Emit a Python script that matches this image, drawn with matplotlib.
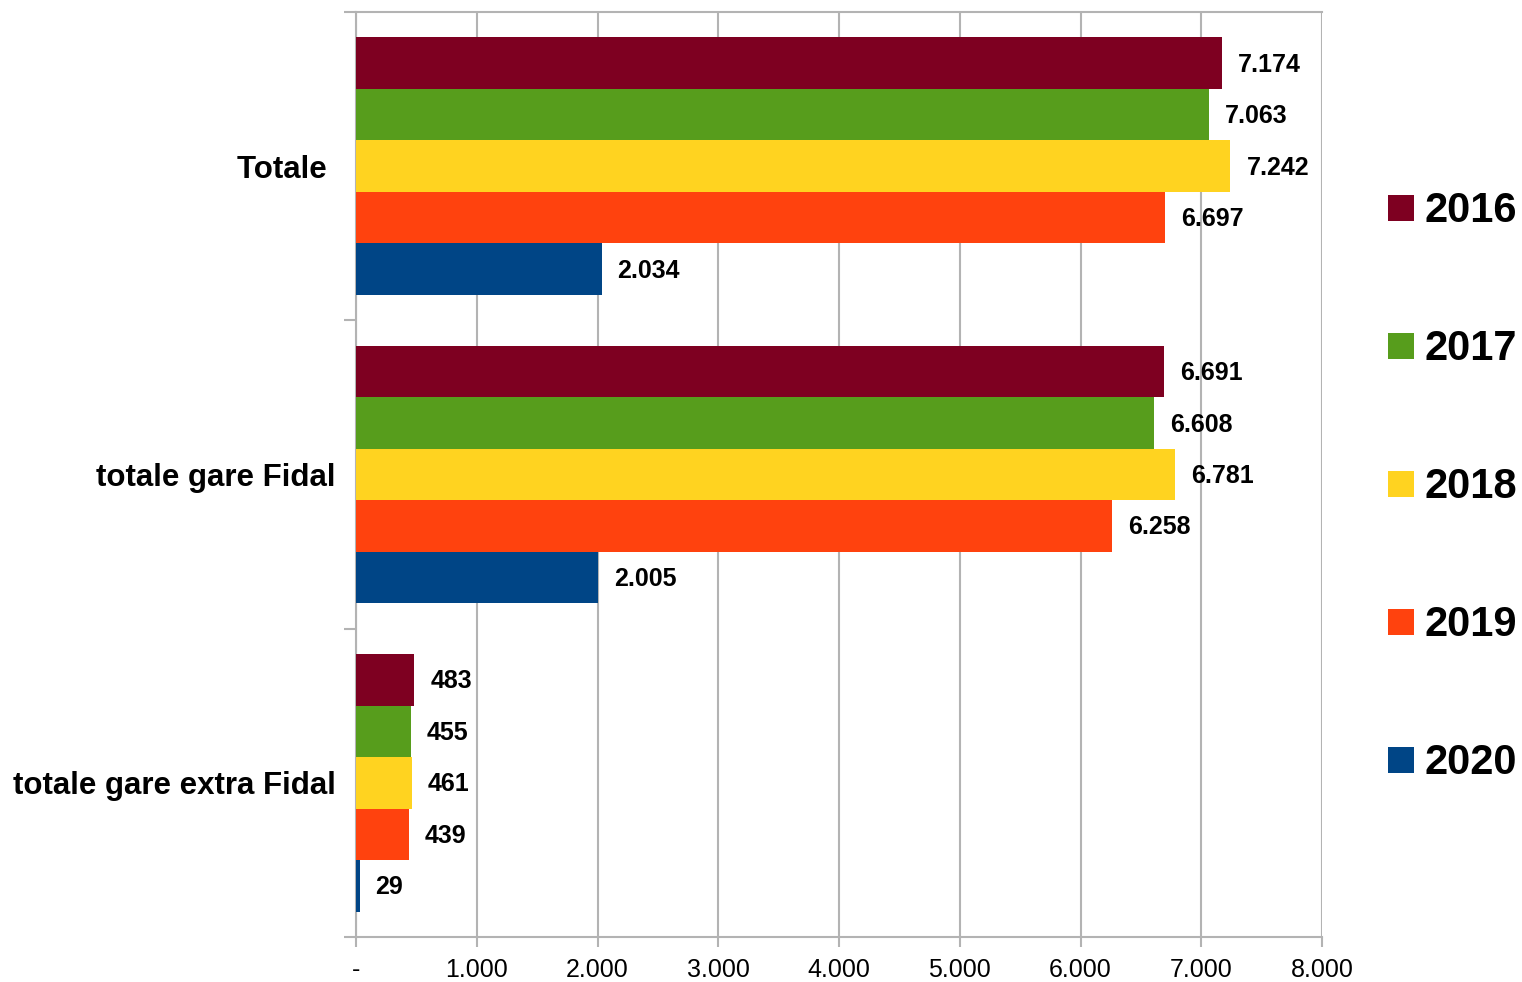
import matplotlib
matplotlib.use("Agg")
import matplotlib.pyplot as plt
from matplotlib.patches import Rectangle
import numpy as np

categories = ["Totale ", "totale gare Fidal", "totale gare extra Fidal"]
years = ["2016", "2017", "2018", "2019", "2020"]
values_2016 = [7174, 6691, 483]
values_2017 = [7063, 6608, 455]
values_2018 = [7242, 6781, 461]
values_2019 = [6697, 6258, 439]
values_2020 = [2034, 2005, 29]
series = [values_2016, values_2017, values_2018, values_2019, values_2020]
colors = ["#7E0021", "#579D1C", "#FFD320", "#FF420E", "#004586"]
xticks = [0, 1000, 2000, 3000, 4000, 5000, 6000, 7000, 8000]

plt.rcParams['font.family'] = ['Liberation Sans', 'DejaVu Sans']

def fmt(v):
    if v == 0:
        return "-"
    return f"{v:,}".replace(",", ".")

W, H = 1522, 982
fig = plt.figure(figsize=(W / 100, H / 100), dpi=100)
ax = fig.add_axes([356 / W, 1 - 937 / H, (1322 - 356) / W, (937 - 12) / H])

n = len(series)
group = 0.835
bh = group / n
y = np.arange(len(categories))
for i, (vals, c) in enumerate(zip(series, colors)):
    pos = y - group / 2 + bh * (i + 0.5)
    ax.barh(pos, vals, height=bh, color=c, zorder=3)
    for p, v in zip(pos, vals):
        ax.annotate(fmt(v), (v, p), xytext=(16, 1), textcoords="offset pixels",
                    ha="left", va="center_baseline", fontsize=18, fontweight="bold",
                    color="black", zorder=4)

ax.set_ylim(len(categories) - 0.5, -0.5)
ax.set_xlim(0, 8000)
ax.set_xticks(xticks)
ax.set_xticklabels([fmt(t) for t in xticks], fontsize=18)
ax.set_yticks(y)
ax.set_yticklabels(categories, fontsize=22.5, fontweight="bold")
ax.set_yticks(np.arange(-0.5, len(categories), 1.0), minor=True)
ax.tick_params(axis="y", which="major", length=0, pad=14.5)
ax.tick_params(axis="y", which="minor", length=9, width=1.5, color="#b3b3b3", direction="out")
ax.tick_params(axis="x", which="major", length=7.5, width=1.5, color="#b3b3b3", direction="out", pad=7.5)

ax.grid(axis="x", color="#b3b3b3", linewidth=1.5, zorder=0)
for s in ["left", "top", "bottom"]:
    ax.spines[s].set_color("#b3b3b3")
    ax.spines[s].set_linewidth(1.5)
ax.spines["right"].set_visible(False)
ax.set_axisbelow(True)

# Legend
centers = [208, 346, 484, 622, 760]
for yr, c, cy in zip(years, colors, centers):
    fig.patches.append(Rectangle((1388 / W, 1 - (cy + 13) / H), 26 / W, 26 / H,
                                 transform=fig.transFigure, facecolor=c, edgecolor="none"))
    fig.text(1424 / W, 1 - (cy - 1) / H, yr, fontsize=30, fontweight="bold",
             ha="left", va="center_baseline")

fig.savefig("out.png", dpi=100)
